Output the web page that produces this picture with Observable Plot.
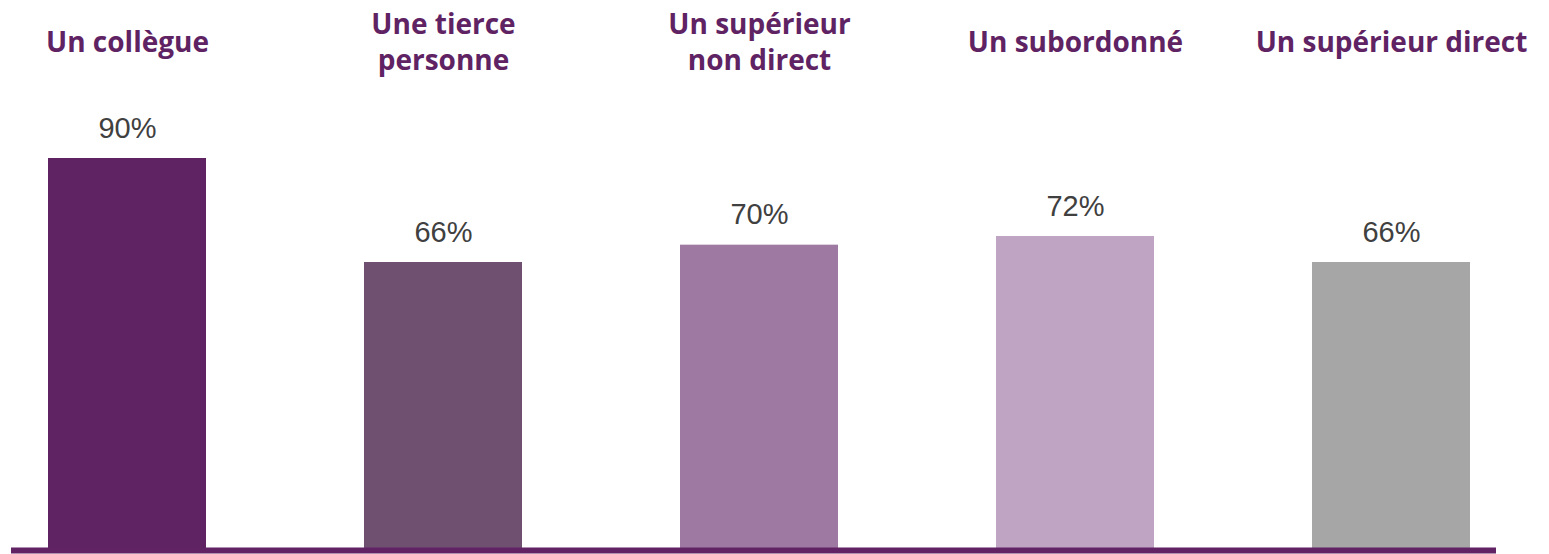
<!DOCTYPE html>
<html><head><meta charset="utf-8">
<script src="https://cdn.jsdelivr.net/npm/d3@7"></script>
<script src="https://cdn.jsdelivr.net/npm/@observablehq/plot@0.6"></script>
<style>body{margin:0;background:#fff}</style>
</head><body><div id="chart"></div>
<script>
const categories = ["Un collègue", "Une tierce\npersonne", "Un supérieur\nnon direct", "Un subordonné", "Un supérieur direct"];
const values = [90, 66, 70, 72, 66];
const colors = ["#5F2363", "#705070", "#9E7AA2", "#BFA5C3", "#A6A6A6"];
const data = categories.map((c, i) => ({cat: c, v: values[i], color: colors[i]}));

const chart = Plot.plot({
  width: 1549, height: 554,
  marginLeft: 0, marginRight: 32, marginTop: 158, marginBottom: 6,
  x: {domain: categories, paddingInner: 0.5, paddingOuter: 0.15, axis: null},
  y: {domain: [0, 90], axis: null},
  style: {background: "#fff"},
  marks: [
    Plot.barY(data, {x: "cat", y: "v", fill: "color"}),
    Plot.ruleY([0], {stroke: "#612364", strokeWidth: 6, dy: 2, insetLeft: 11, insetRight: 21}),
    Plot.text(data, {x: "cat", y: "v", text: d => d.v + "%", lineAnchor: "bottom", dy: -21,
      fill: "#404040", fontSize: 29, fontFamily: "Liberation Sans, Arial, sans-serif"}),
    Plot.text(data, {x: "cat", text: "cat", frameAnchor: "top", lineAnchor: "middle", dy: -118,
      lineHeight: 1.3, fill: "#5F2363", fontSize: 28, fontWeight: 700, fontFamily: "Open Sans, sans-serif"})
  ]
});
document.getElementById("chart").append(chart);
</script></body></html>
